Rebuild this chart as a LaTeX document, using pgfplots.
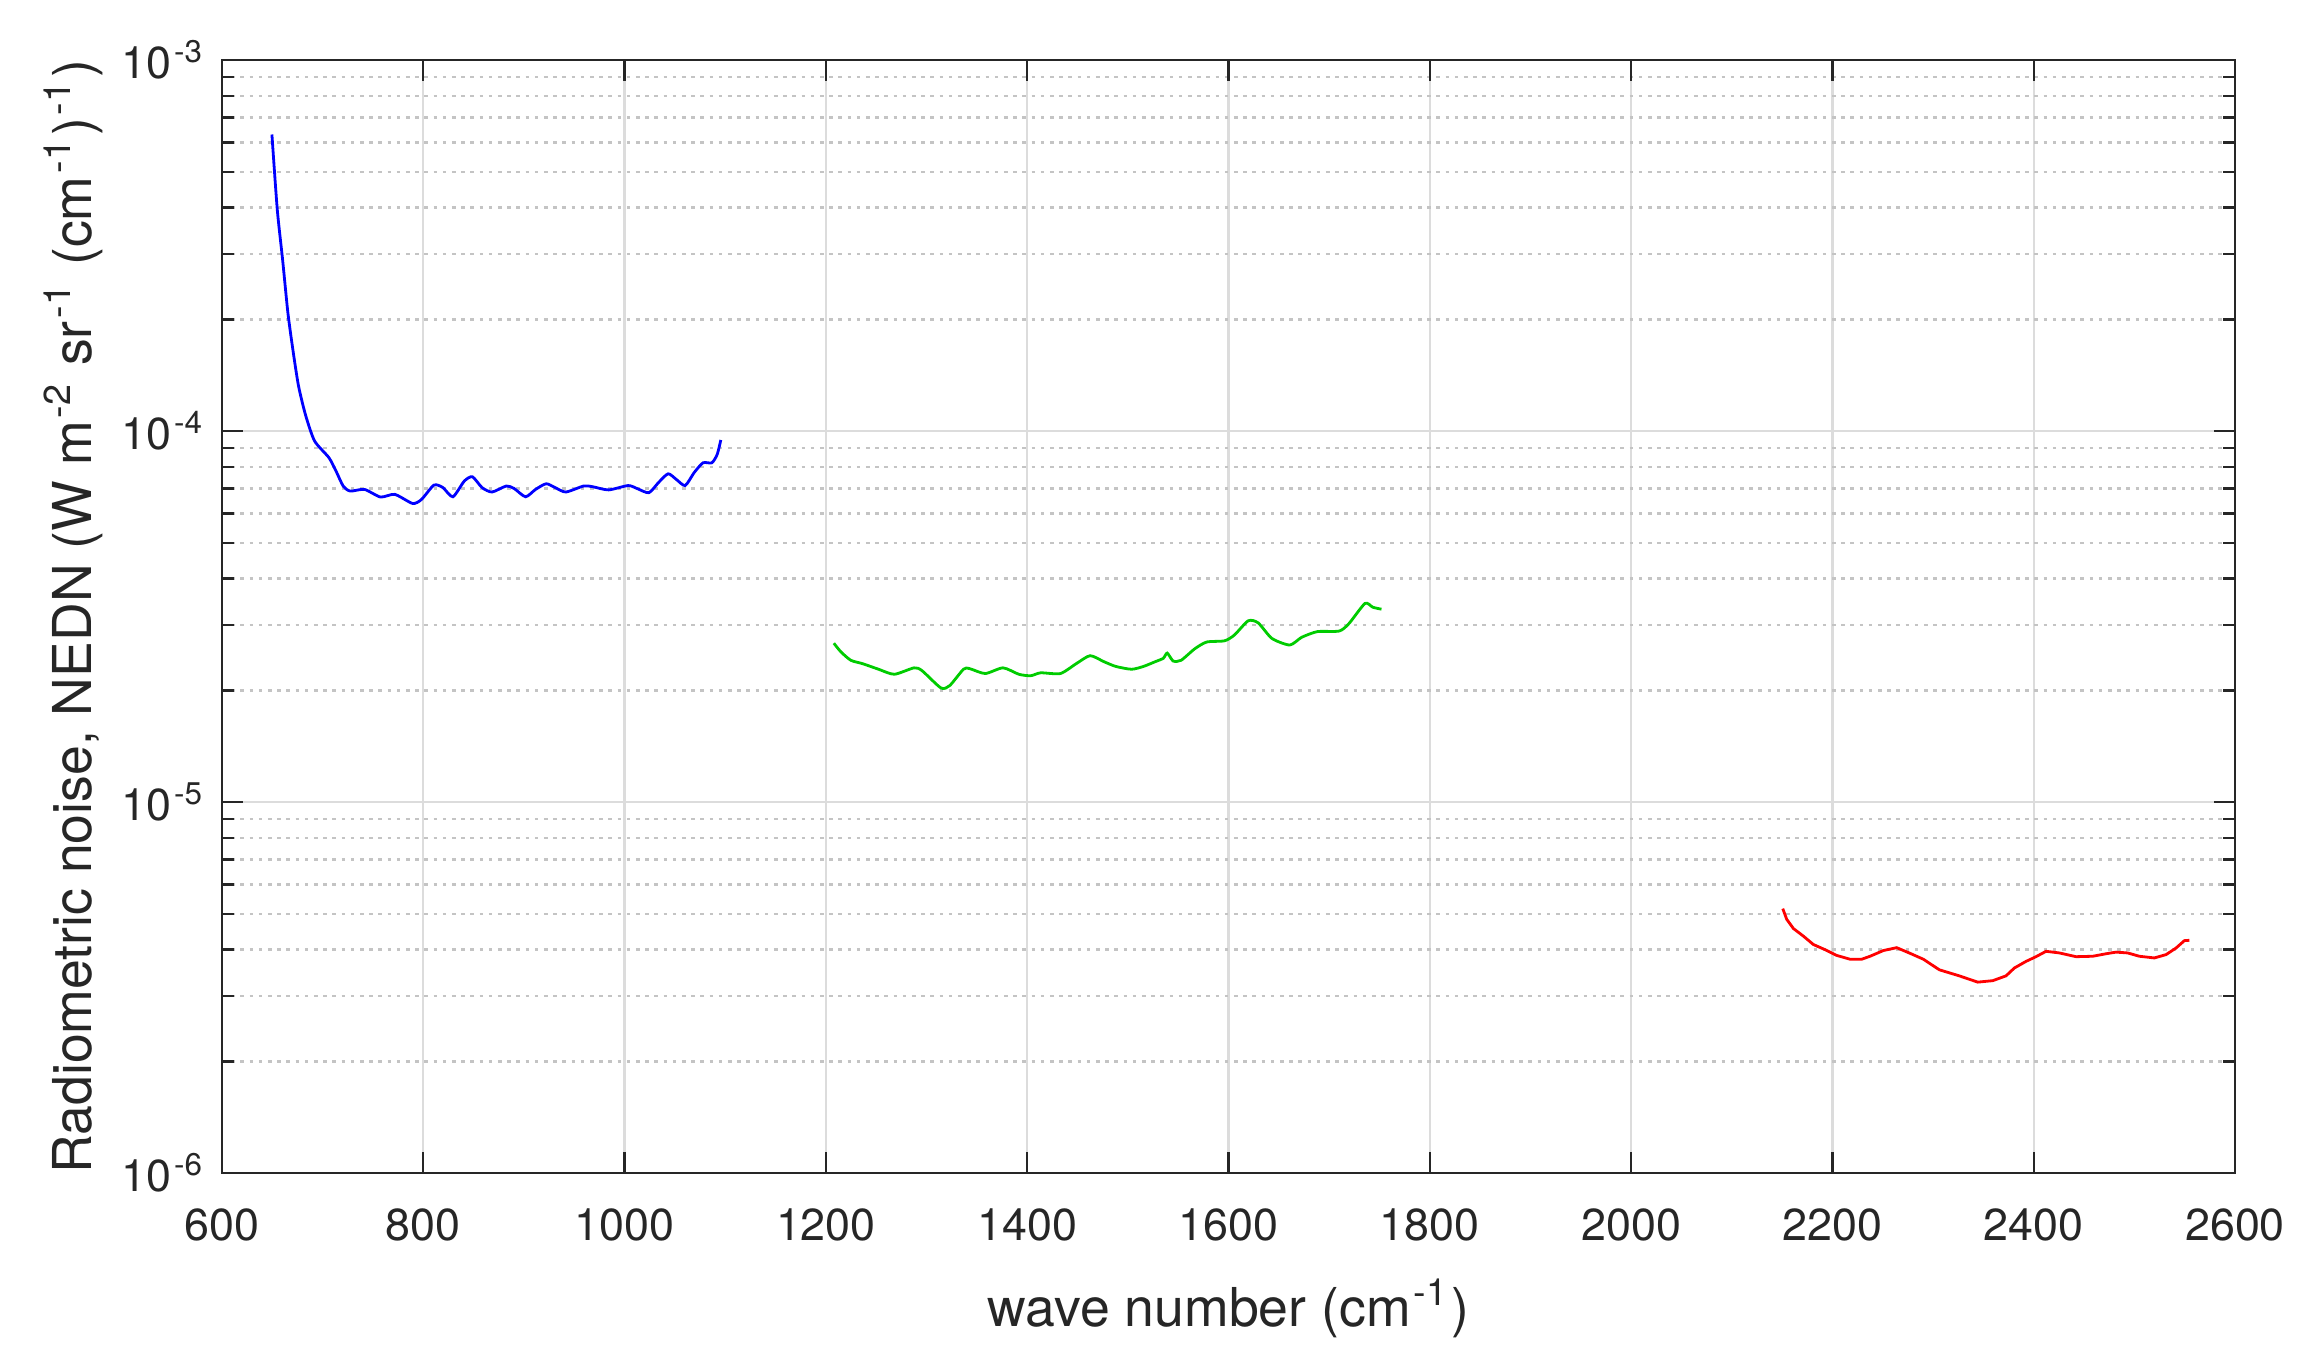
\documentclass[border=0pt]{standalone}
\usepackage{fontspec}
\setmainfont{TeX Gyre Heros}
\usepackage{pgfplots}
\pgfplotsset{compat=1.18}
\definecolor{axgray}{HTML}{262626}
\definecolor{gridmaj}{HTML}{DCDCDC}
\definecolor{gridmin}{HTML}{C4C4C4}
\definecolor{mgreen}{RGB}{0,204,0}
\newcommand{\sps}[1]{\textsuperscript{\kern0.08em\relax#1}\kern0.04em\relax}
\begin{document}
\begin{tikzpicture}
\path[use as bounding box] (-55.5pt,-46.75pt) rectangle (520.5pt,293.25pt);
\begin{axis}[
  at={(0pt,0pt)}, anchor=south west,
  scale only axis, width=503.25pt, height=278.25pt,
  ymode=log, xmin=600, xmax=2600, ymin=1e-6, ymax=1e-3,
  xtick={600,800,...,2600},
  minor x tick num=0,
  ytick={1e-6,1e-5,1e-4,1e-3},
  yticklabels={10\sps{-6},10\sps{-5},10\sps{-4},10\sps{-3}},
  /pgf/number format/assume math mode=true,
  /pgf/number format/1000 sep={},
  tick align=inside,
  major tick length=5.25pt, minor tick length=3pt,
  every tick/.style={axgray, line width=0.6pt},
  axis line style={axgray, line width=0.6pt},
  xmajorgrids, ymajorgrids, yminorgrids,
  major grid style={gridmaj, line width=0.6pt, solid},
  minor grid style={gridmin, line width=0.6pt, dash pattern=on 0.9pt off 1.4pt},
  tick label style={font=\fontsize{11.2}{13}\selectfont, text=axgray},
  xticklabel style={yshift=-5.5pt},
  yticklabel style={xshift=-0.5pt},
  label style={font=\fontsize{13.4}{16}\selectfont, text=axgray},
  xlabel={wave number (cm\sps{-1})},
  ylabel={Radiometric noise, NEDN (W m\sps{-2} sr\sps{-1} (cm\sps{-1})\sps{-1})},
  xlabel style={at={(axis description cs:0.5,-0.1213)}, anchor=center},
  ylabel style={at={(axis description cs:-0.074,0.5)}, anchor=center},
]
\addplot[blue, line width=0.7pt, smooth, tension=0.4] coordinates {
(649.6,6.30e-4) (654.9,3.96e-4) (660.2,2.90e-4) (665.5,2.08e-4) (670.8,1.63e-4)
(676.1,1.32e-4) (683.2,1.10e-4) (692,9.4e-5) (706.2,8.48e-5) (713.3,7.80e-5)
(720.4,7.11e-5) (727.4,6.89e-5) (741.6,6.96e-5) (757.5,6.64e-5) (771.7,6.75e-5)
(789.4,6.38e-5) (798.2,6.54e-5) (810.6,7.15e-5) (819.5,7.04e-5) (829.4,6.65e-5)
(840.7,7.33e-5) (848.8,7.53e-5) (858.4,7.04e-5) (868.3,6.85e-5) (882.5,7.11e-5)
(890.3,7.0e-5) (901.6,6.65e-5) (911.5,6.96e-5) (922.1,7.21e-5) (931,7.04e-5)
(941.6,6.85e-5) (959.3,7.11e-5) (968.1,7.08e-5) (984.1,6.94e-5) (1003.5,7.13e-5)
(1012.4,7.0e-5) (1024.1,6.82e-5) (1033.6,7.26e-5) (1043.2,7.67e-5) (1051.3,7.41e-5)
(1060.2,7.13e-5) (1069,7.72e-5) (1077.9,8.21e-5) (1086.7,8.21e-5) (1092,8.65e-5)
(1095.6,9.46e-5)
};
\addplot[mgreen, line width=0.7pt, smooth, tension=0.4] coordinates {
(1207.9,2.68e-5) (1214.9,2.54e-5) (1224.8,2.41e-5) (1236.5,2.36e-5) (1252.3,2.28e-5)
(1268,2.21e-5) (1287.6,2.30e-5) (1295.5,2.26e-5) (1314.3,2.03e-5) (1323,2.06e-5)
(1336.7,2.28e-5) (1342.6,2.29e-5) (1358.3,2.22e-5) (1376,2.30e-5) (1391.7,2.21e-5)
(1403.5,2.19e-5) (1413.4,2.23e-5) (1433,2.22e-5) (1448.7,2.36e-5) (1462.5,2.48e-5)
(1476.2,2.39e-5) (1488,2.32e-5) (1503.7,2.28e-5) (1515.5,2.32e-5) (1527.3,2.39e-5)
(1535.2,2.44e-5) (1539.1,2.52e-5) (1545,2.40e-5) (1552.9,2.41e-5) (1566.6,2.59e-5)
(1578.4,2.70e-5) (1596.1,2.72e-5) (1605.9,2.82e-5) (1619.6,3.08e-5) (1629.5,3.04e-5)
(1643.2,2.76e-5) (1660.9,2.65e-5) (1672.7,2.78e-5) (1688.4,2.88e-5) (1710,2.89e-5)
(1719.8,3.03e-5) (1735.6,3.43e-5) (1743.4,3.35e-5) (1752,3.31e-5)
};
\addplot[red, line width=0.7pt] coordinates {
(2150.7,5.16e-6) (2154.6,4.83e-6) (2161.3,4.56e-6) (2171.2,4.35e-6) (2181.1,4.13e-6)
(2192.7,4.0e-6) (2204.3,3.86e-6) (2217.6,3.77e-6) (2229.1,3.77e-6) (2237.4,3.84e-6)
(2250.7,3.98e-6) (2263.9,4.05e-6) (2277.2,3.91e-6) (2290.4,3.77e-6) (2306.3,3.53e-6)
(2326.1,3.40e-6) (2344.4,3.27e-6) (2359.3,3.30e-6) (2372.5,3.40e-6) (2380.8,3.57e-6)
(2392.4,3.72e-6) (2402.3,3.83e-6) (2412.3,3.96e-6) (2425.5,3.92e-6) (2442.1,3.83e-6)
(2458.6,3.84e-6) (2471.9,3.90e-6) (2481.8,3.94e-6) (2493.4,3.92e-6) (2505,3.84e-6)
(2519.9,3.80e-6) (2531.5,3.88e-6) (2541.4,4.04e-6) (2549.7,4.23e-6) (2554.7,4.24e-6)
};
\end{axis}
\end{tikzpicture}
\end{document}
